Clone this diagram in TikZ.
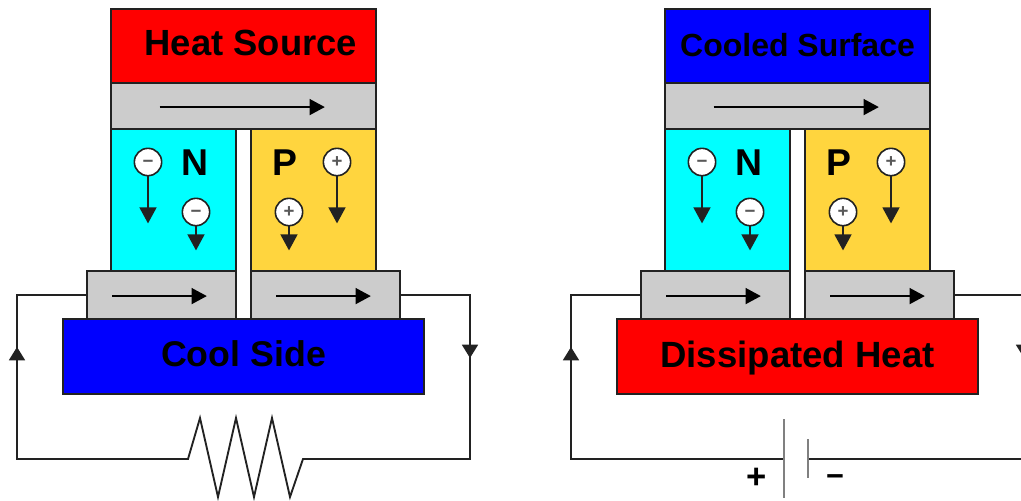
\documentclass[tikz,border=0pt]{standalone}
\usepackage{fontspec}
\setmainfont{Liberation Sans}
\usetikzlibrary{arrows.meta}
\definecolor{platecol}{HTML}{CCCCCC}
\definecolor{ntype}{HTML}{00FFFF}
\definecolor{ptype}{HTML}{FFD53E}
\definecolor{linecol}{HTML}{222222}
\newcommand{\pxfont}[1]{\fontsize{#1}{#1}\bfseries\selectfont}
\newcommand{\signtext}[1]{\raisebox{-4.4pt}[0pt][0pt]{#1}}
\tikzset{
  block/.style    = {draw=linecol,line width=1.4pt,inner sep=0pt,outer sep=0pt,text=black},
  wire/.style     = {linecol,line width=1.4pt,line join=miter},
  flowarr/.style  = {-{Triangle[length=11.5pt,width=12pt]},black,line width=1.4pt},
  wirearr/.style  = {-{Triangle[length=10pt,width=12pt]},wire},
  chargearr/.style= {-{Triangle[length=12pt,width=12.5pt]},linecol,line width=1.8pt},
  charge/.style   = {circle,draw=linecol,fill=white,line width=1.2pt,minimum size=20.5pt,inner sep=0pt,
                     text=black!65,font=\pxfont{14}},
  typelabel/.style= {font=\pxfont{28},inner sep=0pt},
  signlabel/.style= {font=\pxfont{26},inner sep=0pt}
}
% #1 name, #2-#5 left top right bottom in px, #6 fill, #7 text
\newcommand{\plate}[7]{%
  \node[block,fill=#6,minimum width={(#4-#2)*0.75pt},minimum height={(#5-#3)*0.75pt}]
    (#1) at ({(#2+#4)/2},{(#3+#5)/2}) {#7};
}
% #1 prefix, #2 top colour, #3 top text, #4 bottom colour, #5 bottom text
\newcommand{\peltier}[5]{%
  \begin{scope}[name prefix=#1]
  \plate{top}{111}{9}{376}{83}{#2}{#3}
  \plate{upper}{111}{83}{376}{129}{platecol}{}
  \plate{nleg}{111}{129}{236}{271}{ntype}{}
  \plate{pleg}{251}{129}{376}{271}{ptype}{}
  \plate{lowl}{87}{271}{236}{319}{platecol}{}
  \plate{lowr}{251}{271}{400}{319}{platecol}{}
  \plate{base}{63}{319}{424}{394}{#4}{#5}
  \draw[flowarr] ([xshift=-63pt,yshift=-.8pt]upper.center) -- ([xshift=61pt,yshift=-.8pt]upper.center);
  \draw[flowarr] ([xshift=-37pt,yshift=-.8pt]lowl.center) -- ([xshift=34pt,yshift=-.8pt]lowl.center);
  \draw[flowarr] ([xshift=-37pt,yshift=-.8pt]lowr.center) -- ([xshift=34pt,yshift=-.8pt]lowr.center);
  \node[typelabel] (ntext) at (195,163) {N};
  \node[typelabel] (ptext) at (285,163) {P};
  \node[charge] (na) at (148,162) {\signtext{−}};
  \node[charge] (nb) at (196,212) {\signtext{−}};
  \node[charge] (pa) at (337,162) {\signtext{+}};
  \node[charge] (pb) at (289,212) {\signtext{+}};
  \draw[chargearr] (na.south) -- ++(0,47);
  \draw[chargearr] (pa.south) -- ++(0,47);
  \draw[chargearr] (nb.south) -- ++(0,24);
  \draw[chargearr] (pb.south) -- ++(0,24);
  \end{scope}
}

\begin{document}
\begin{tikzpicture}[x=0.75pt,y=-0.75pt]
  \useasboundingbox (0,0) rectangle (1021,500);
  \clip (0,0) rectangle (1021,500);
  % cooling side, load in the loop
  \peltier{gen}{red}{\pxfont{27.3}\hspace*{11pt}\raisebox{4.5pt}{Heat Source}}{blue}{\pxfont{26.8}\raisebox{4.5pt}{Cool Side}}
  \coordinate (gencl) at (17,459);
  \coordinate (gencr) at (470,459);
  \draw[wire] (genlowl.west) -| (gencl) -- (188,459)
    -- (200,418) -- (218,497) -- (236,418) -- (254,497) -- (272,418) -- (290,497) -- (303,459)
    -- (gencr) |- (genlowr.east);
  \draw[wirearr] (17,370) -- (17,347);
  \draw[wirearr] (470,335) -- (470,358);
  % heat pump side, battery in the loop
  \begin{scope}[xshift=415.5pt]
    \peltier{pump}{blue}{\pxfont{24}\raisebox{1.5pt}{Cooled Surface}}{red}{\pxfont{27.4}\raisebox{-1.5pt}[\height][\depth]{Dissipated Heat}}
  \end{scope}
  \coordinate (pumpcl) at (571,459);
  \coordinate (pumpcr) at (1030,459);
  \coordinate (pumpct) at (1030,295);
  \coordinate (platea) at (784,459);
  \coordinate (plateb) at (808,459);
  \draw[wire] (pumplowl.west) -| (pumpcl) -- (platea);
  \draw[wire] (plateb) -- (pumpcr);
  \draw[wire] (pumplowr.east) -- (pumpct);
  \draw[wire,black!50,line width=2pt] (784,419) -- (784,498);
  \draw[wire,black!50,line width=2pt] (808,439) -- (808,478);
  \draw[wirearr] (571,370) -- (571,347);
  \draw[wirearr] (1024,335) -- (1024,358);
  \node[signlabel] (pluslabel) at (757,478) {+};
  \node[signlabel,font=\pxfont{23}] (minuslabel) at (835,481) {−};
\end{tikzpicture}
\end{document}
